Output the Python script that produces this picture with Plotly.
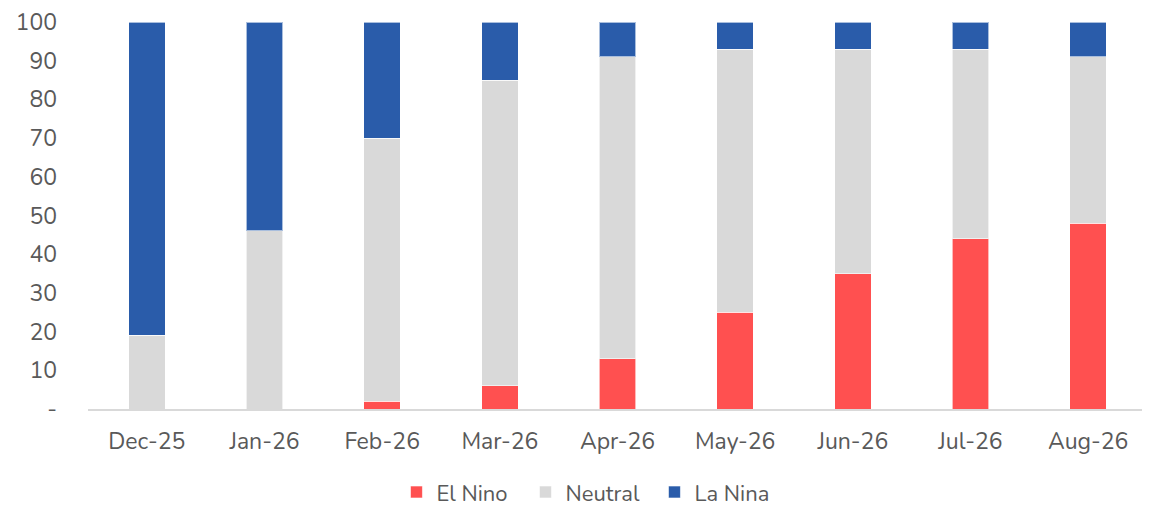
import plotly.graph_objects as go

months = ["Dec-25", "Jan-26", "Feb-26", "Mar-26", "Apr-26", "May-26", "Jun-26", "Jul-26", "Aug-26"]
el_nino = [0, 0, 2, 6, 13, 25, 35, 44, 48]
neutral = [19, 46, 68, 79, 78, 68, 58, 49, 43]
la_nina = [81, 54, 30, 15, 9, 7, 7, 7, 9]

series = [
    ("El Nino", el_nino, "#ff5050"),
    ("Neutral", neutral, "#d9d9d9"),
    ("La Nina", la_nina, "#2a5caa"),
]

fig = go.Figure()
for name, vals, color in series:
    fig.add_trace(go.Bar(
        x=months, y=vals, name=name,
        marker=dict(color=color, line=dict(color="rgba(255,255,255,0.6)", width=1)),
    ))

# page body has an 8px default margin, so the figure is offset inside the window
font = dict(family="Nunito, Lato, Noto Sans, sans-serif", size=23, color="#595959")
fig.update_layout(
    barmode="stack",
    bargap=0.69,
    width=1142, height=508,
    margin=dict(l=80, r=3, t=14, b=107, autoexpand=False),
    paper_bgcolor="white", plot_bgcolor="white",
    font=font,
    legend=dict(orientation="h", x=0.474, xanchor="center", y=-0.215, yanchor="middle",
                font=dict(font, size=22), itemwidth=30, entrywidth=84, traceorder="normal"),
    xaxis=dict(showline=True, linecolor="#d9d9d9", linewidth=2, ticks="", tickfont=font,
               ticklabelstandoff=10),
    yaxis=dict(range=[0, 100], tickvals=list(range(0, 101, 10)),
               ticktext=["-"] + [str(v) for v in range(10, 101, 10)],
               showgrid=False, zeroline=False, ticks="", tickfont=font, ticklabelstandoff=30,
               ticklabeloverflow="allow"),
)

fig.write_html("out.html")
